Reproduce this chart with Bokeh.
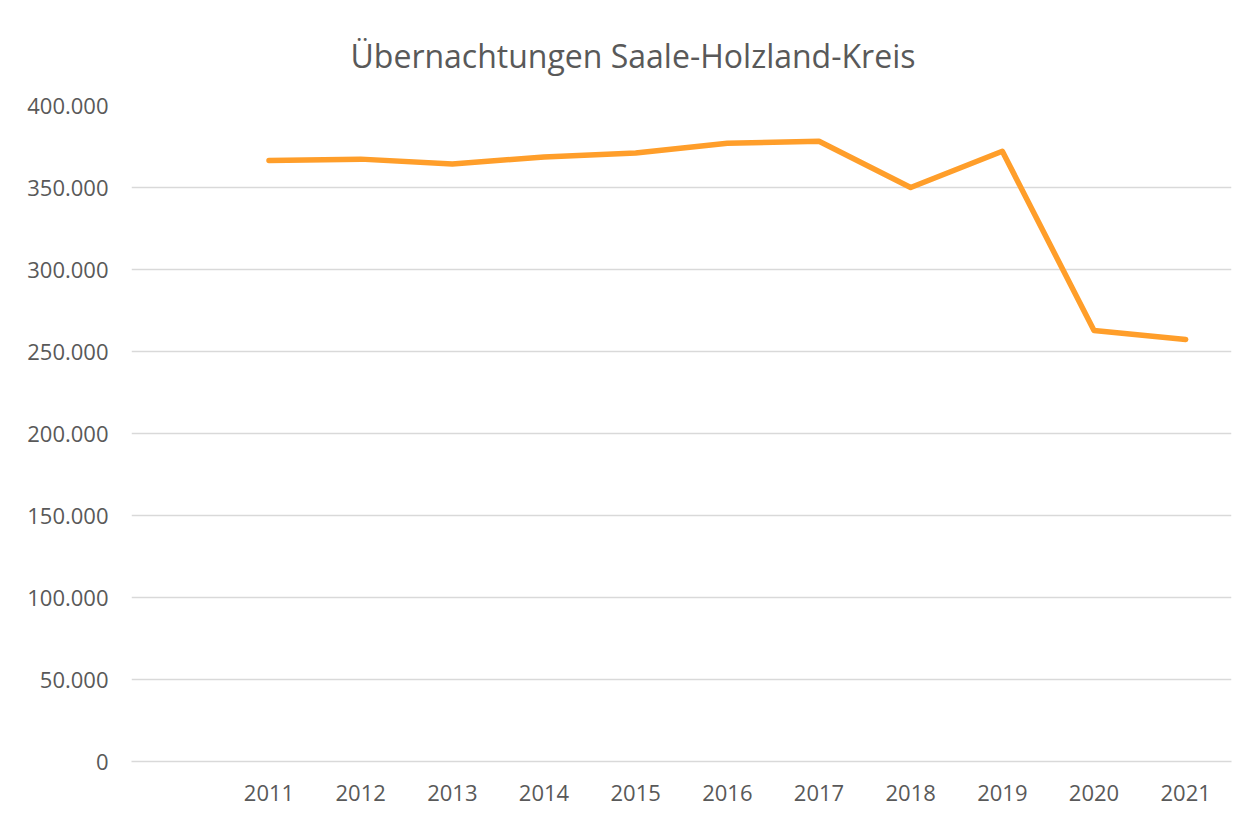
from bokeh.plotting import figure
from bokeh.models import Range1d, FixedTicker, ColumnDataSource
from bokeh.embed import file_html
from bokeh.resources import INLINE

title_text = "Übernachtungen Saale-Holzland-Kreis"
years = [2011, 2012, 2013, 2014, 2015, 2016, 2017, 2018, 2019, 2020, 2021]
year_labels = ["2011", "2012", "2013", "2014", "2015", "2016", "2017", "2018", "2019", "2020", "2021"]
overnight_stays = [366500, 367300, 364300, 368600, 371000, 377000, 378200, 350000, 372100, 262800, 257300]
y_ticks = [0, 50000, 100000, 150000, 200000, 250000, 300000, 350000, 400000]
y_tick_labels = ["0", "50.000", "100.000", "150.000", "200.000", "250.000", "300.000", "350.000", "400.000"]

FONT = "Open Sans"
TEXT_COLOR = "#595959"
GRID_COLOR = "#d9d9d9"
LINE_COLOR = "#ff9e2a"

p = figure(width=1240, height=809, output_backend="svg", toolbar_location=None,
           x_range=Range1d(years[0] - 1.5, years[-1] + 0.5), y_range=Range1d(0, 400000),
           min_border_left=131, min_border_right=9, min_border_top=105, min_border_bottom=48)

p.title.text = title_text
p.title.align = "left"
p.title.offset = 219
p.title.text_font = FONT
p.title.text_font_size = "32px"
p.title.text_font_style = "normal"
p.title.text_color = TEXT_COLOR
p.title.standoff = 58

p.outline_line_color = None
p.background_fill_color = "white"
p.border_fill_color = "white"

src = ColumnDataSource(dict(x=years, y=overnight_stays))
p.line("x", "y", source=src, line_color=LINE_COLOR, line_width=5.5, line_cap="round", line_join="round")

p.xaxis.ticker = FixedTicker(ticks=years)
p.xaxis.major_label_overrides = {y: l for y, l in zip(years, year_labels)}
p.yaxis.ticker = FixedTicker(ticks=y_ticks)
p.yaxis.major_label_overrides = {t: l for t, l in zip(y_ticks, y_tick_labels)}

for ax in (p.xaxis, p.yaxis):
    ax.major_label_text_font = FONT
    ax.major_label_text_font_size = "22px"
    ax.major_label_text_color = TEXT_COLOR
    ax.major_tick_line_color = None
    ax.minor_tick_line_color = None
    ax.major_tick_in = 0
    ax.major_tick_out = 0
p.yaxis.axis_line_color = None
p.xaxis.axis_line_color = GRID_COLOR
p.xaxis.axis_line_width = 1.5
p.yaxis.major_label_standoff = 23
p.xaxis.major_label_standoff = 23

p.xgrid.grid_line_color = None
p.ygrid.grid_line_color = GRID_COLOR
p.ygrid.grid_line_width = 1.5

open("out.html", "w").write(file_html(p, INLINE))
